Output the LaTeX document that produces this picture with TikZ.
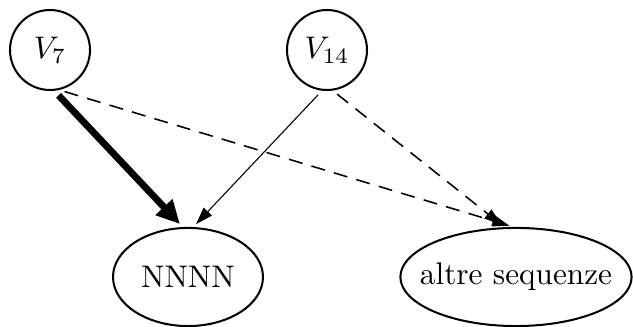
\documentclass[tikz,border=0pt]{standalone}
\usepackage{tikz}
\usetikzlibrary{shapes.geometric, arrows.meta}

\begin{document}
\begin{tikzpicture}[x=0.32pt, y=-0.32pt,
    var/.style={circle, draw, line width=0.65pt, minimum size=25.6pt, inner sep=0pt},
    seq/.style={ellipse, draw, line width=0.65pt, minimum height=31.4pt, inner ysep=0pt, inner xsep=-10pt},
    arrow/.style={-{Triangle[length=5.5pt, width=3.6pt]}, line width=0.35pt, shorten <=1.8pt, shorten >=1.3pt},
    dasharrow/.style={arrow, line width=0.5pt, dash pattern=on 4.5pt off 3pt},
    bigarrow/.style={-{Triangle[length=7.5pt, width=7pt]}, line width=2.2pt, shorten <=2pt, shorten >=1.3pt}
]
\useasboundingbox (0,0) rectangle (633,327);

\node[var] (v7) at (50,50) {$V_7$};
\node[var] (v14) at (327,50) {$V_{14}$};

\node[seq, minimum width=48pt] (nnnn) at (188,277) {NNNN};
\node[seq, minimum width=74pt] (altre) at (516,277) {altre sequenze};

\draw[bigarrow] (v7.-84) -- (nnnn.96);
\draw[dasharrow] (v7.-77) -- (altre.93);
\draw[arrow] (v14.-97) -- (nnnn.84);
\draw[dasharrow] (v14.-82) -- (altre.103);

\end{tikzpicture}
\end{document}
